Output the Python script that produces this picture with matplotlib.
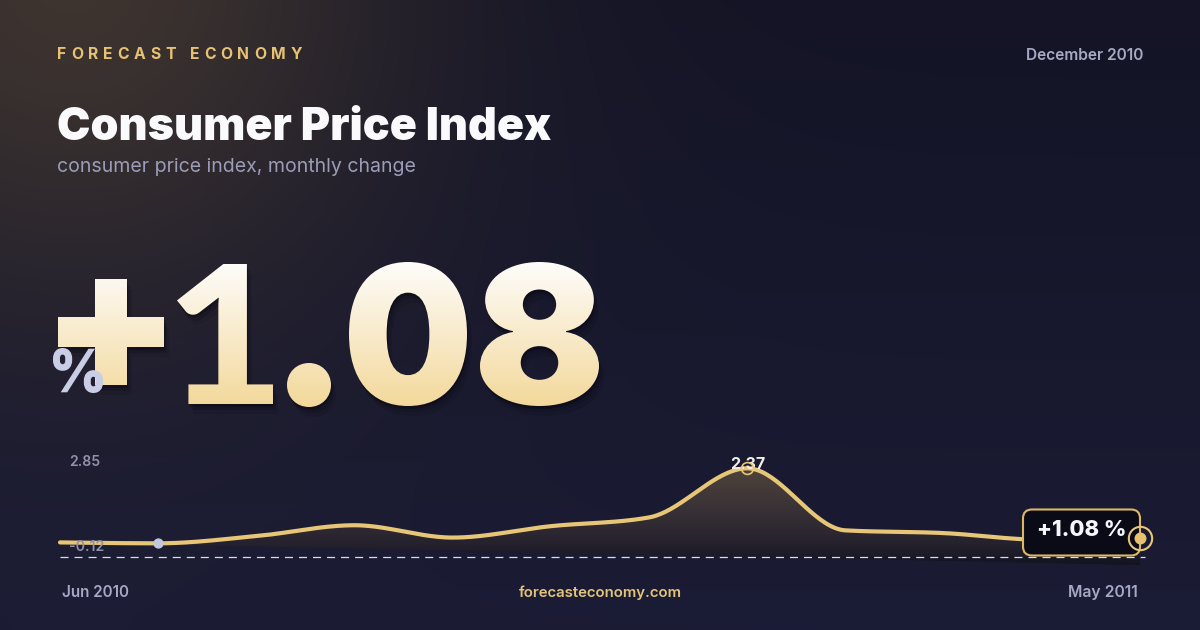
import numpy as np
import matplotlib
matplotlib.use("Agg")
import matplotlib.pyplot as plt
from matplotlib.path import Path
from matplotlib.patches import PathPatch, FancyBboxPatch
from matplotlib.transforms import Affine2D, IdentityTransform, TransformedPath
from matplotlib.patheffects import AbstractPathEffect
from matplotlib.colors import to_rgb

# ---------------- data ----------------
months = ['Jun 2010', 'Jul 2010', 'Aug 2010', 'Sep 2010', 'Oct 2010', 'Nov 2010',
          'Dec 2010', 'Jan 2011', 'Feb 2011', 'Mar 2011', 'Apr 2011', 'May 2011']
values = [-0.09, -0.12, 0.12, 0.48, 0.07, 0.45, 0.74, 2.37, 0.31, 0.22, 0.00, 0.04]
axis_labels = ['2.85', '-0.12']
headline = '+1.08'
headline_unit = '%'
badge_text = '+1.08 %'
brand = 'FORECAST ECONOMY'
title = 'Consumer Price Index'
subtitle = 'consumer price index, monthly change'
period = 'December 2010'
site = 'forecasteconomy.com'

# ---------------- style ----------------
plt.rcParams['font.family'] = ['Inter', 'DejaVu Sans']
plt.rcParams['lines.scale_dashes'] = False
GOLD = '#e8c677'
GRAY = '#a7a9c4'
W, H = 1200, 630

fig = plt.figure(figsize=(12, 6.3), dpi=100)
renderer = fig.canvas.get_renderer()

# background axes (pixel coordinates, y down)
bg = fig.add_axes([0, 0, 1, 1], zorder=0)
bg.set_axis_off()
yy, xx = np.mgrid[0:H, 0:W].astype(float)
top_c = np.array([20, 20, 38.0]); bot_c = np.array([27, 28, 53.0])
base = top_c + (bot_c - top_c) * (yy / H)[..., None]
d = np.hypot(xx - 70, yy + 30)
g = 0.80 * np.exp(-(d / 350.0) ** 2)
warm = np.array([72, 60, 50.0])
img = base * (1 - g[..., None]) + warm * g[..., None]
bg.imshow(img.astype(np.uint8), extent=(0, W, H, 0), aspect='auto', interpolation='bilinear')
bg.set_xlim(0, W); bg.set_ylim(H, 0)


class BoxGradient(AbstractPathEffect):
    """Fill a text glyph with a vertical gradient, fitted into a pixel box."""

    def __init__(self, box, c_top, c_bot, g_top=262, g_bot=407, shadows=()):
        super().__init__()
        self.box = box
        self.c_top = np.array(to_rgb(c_top)); self.c_bot = np.array(to_rgb(c_bot))
        self.g_top, self.g_bot = g_top, g_bot
        self.shadows = shadows

    def draw_path(self, renderer, gc, tpath, affine, rgbFace=None):
        Hf = renderer.height
        path = affine.transform_path(tpath)
        ext = path.get_extents()
        l, t, r, b = self.box
        fit = (Affine2D().translate(-ext.x0, -ext.y0)
               .scale((r - l) / ext.width, (b - t) / ext.height)
               .translate(l, Hf - b))
        p2 = fit.transform_path(path)
        for dx, dy, a in self.shadows:
            gs = renderer.new_gc(); gs.copy_properties(gc)
            gs.set_alpha(a); gs.set_linewidth(0)
            renderer.draw_path(gs, p2, Affine2D().translate(dx, -dy), (0.02, 0.02, 0.05))
            gs.restore()
        x0 = int(np.floor(l)) - 2; x1 = int(np.ceil(r)) + 2
        y0 = int(np.floor(Hf - b)) - 2; y1 = int(np.ceil(Hf - t)) + 2
        hh, ww = y1 - y0, x1 - x0
        rows_from_top = (Hf - y1) + np.arange(hh) + 0.5
        f = np.clip((rows_from_top - self.g_top) / (self.g_bot - self.g_top), 0, 1)
        rgb = self.c_top[None, :] * (1 - f)[:, None] + self.c_bot[None, :] * f[:, None]
        im = np.ones((hh, ww, 4))
        im[..., :3] = rgb[:, None, :]
        im = (im[::-1] * 255).astype(np.uint8)   # image rows run bottom-up here
        gi = renderer.new_gc(); gi.copy_properties(gc)
        gi.set_alpha(1.0)
        gi.set_clip_path(TransformedPath(p2, IdentityTransform()))
        renderer.draw_image(gi, x0, y0, np.ascontiguousarray(im))
        gi.restore()


def fit_text(axo, xp, yp, s, width, ha='left', va='baseline', base_size=20, **kw):
    tx = axo.text(xp, yp, s, ha=ha, va=va, fontsize=base_size, **kw)
    wv = tx.get_window_extent(renderer).width
    tx.set_fontsize(base_size * width / wv)
    return tx


# ---------------- big headline number (real text, gradient fill) ----------------
headline_boxes = [(58, 279, 164, 385), (177, 264, 273, 404), (287, 363, 331, 407),
                  (349, 262, 467, 406), (480, 262, 599, 406)]
shadow_spec = [(1, 3, 0.30), (3, 6, 0.18), (5, 10, 0.10)]
for ch, box in zip(headline, headline_boxes):
    fam = 'Lato' if ch == '1' else 'Inter'
    tx = fit_text(bg, box[0], box[3], ch, box[2] - box[0] - 2, base_size=140, family=fam,
                  fontweight=900, color='#f8e6bc', zorder=5)
    tx.set_path_effects([BoxGradient(box, '#fefdfb', '#f3d89a', shadows=shadow_spec)])

ut = fit_text(bg, 53, 393, headline_unit, 48, base_size=40, fontweight=900,
              color='#c9cde6', zorder=6)
ut.set_path_effects([BoxGradient((53, 348, 103, 393), '#c9cde6', '#c9cde6')])

# ---------------- chart ----------------
ax = fig.add_axes([60 / W, (H - 565) / H, 1080 / W, 125 / H], zorder=1)
ax.set_axis_off()
ax.patch.set_alpha(0)
x = np.arange(len(values), dtype=float)
y = np.array(values, dtype=float)
ax.set_xlim(0, len(values) - 1)
ymin, ymax = -0.84, 3.31
ax.set_ylim(ymin, ymax)


def monotone_curve(x, y, n=40):
    h = np.diff(x); s = np.diff(y) / h
    tg = np.zeros_like(y)
    for i in range(1, len(y) - 1):
        p = (s[i - 1] * h[i] + s[i] * h[i - 1]) / (h[i - 1] + h[i])
        tg[i] = (np.sign(s[i - 1]) + np.sign(s[i])) * min(abs(s[i - 1]), abs(s[i]), 0.5 * abs(p))
    tg[0] = (3 * s[0] - tg[1]) / 2
    tg[-1] = (3 * s[-1] - tg[-2]) / 2
    xs, ys = [], []
    for i in range(len(x) - 1):
        u = np.linspace(0, 1, n, endpoint=(i == len(x) - 2))
        h00 = 2 * u**3 - 3 * u**2 + 1; h10 = u**3 - 2 * u**2 + u
        h01 = -2 * u**3 + 3 * u**2; h11 = u**3 - u**2
        xs.append(x[i] + u * h[i])
        ys.append(h00 * y[i] + h10 * h[i] * tg[i] + h01 * y[i + 1] + h11 * h[i] * tg[i + 1])
    return np.concatenate(xs), np.concatenate(ys)


xs, ys = monotone_curve(x, y)

# gradient area
poly = np.vstack([np.column_stack([xs, ys]), [[x[-1], ymin], [x[0], ymin]]])
area = PathPatch(Path(poly, closed=True), transform=ax.transData, fc='none', ec='none')
ax.add_patch(area)
stops = [(0.00, '#131220'), (0.08, '#1a1925'), (0.20, '#24212d'), (0.41, '#302a32'),
         (0.66, '#3d3537'), (1.00, '#4e433a')]
tt = np.linspace(0, 1, 256)
cols = np.zeros((256, 3))
for k in range(3):
    cols[:, k] = np.interp(tt, [s_[0] for s_ in stops], [to_rgb(s_[1])[k] for s_ in stops])
aim = ax.imshow(cols[:, None, :], extent=(x[0], x[-1], ymin, y.max()), origin='lower',
                aspect='auto', zorder=1, interpolation='bilinear')
aim.set_clip_path(area)

# baseline dashed
base_v = -0.575
ax.plot([x[0], x[-1] + 0.05], [base_v, base_v], color='#dcdce8', lw=0.9,
        dashes=(5.8, 4.3), zorder=2, clip_on=False)

# line
ax.plot(xs, ys, color=GOLD, lw=3.0, solid_capstyle='round', solid_joinstyle='round',
        zorder=3, clip_on=False)

# min marker
imin = int(np.argmin(y))
ax.plot(x[imin], y[imin], 'o', ms=7.4, color='#c3c6de', mec='none', zorder=6, clip_on=False)

# peak marker + label
imax = int(np.argmax(y))
ax.annotate(f'{y[imax]:.2f}', (x[imax], y[imax]), xytext=(0, -1), textcoords='offset pixels',
            ha='center', va='baseline', color='#f2efe8', fontsize=11.5, fontweight='bold',
            zorder=5, annotation_clip=False)
ax.plot(x[imax], y[imax], 'o', ms=8.5, mfc='none', mec=GOLD, mew=1.2, zorder=6, clip_on=False)

# last point badge
pd = ax.transData.transform((x[-1], y[-1]))
badge = FancyBboxPatch((pd[0] - 117, pd[1] - 17), 117, 46,
                       boxstyle='round,pad=0,rounding_size=9', transform=IdentityTransform(),
                       fc='#0b0b18', ec='#dcb863', lw=1.5, zorder=4, clip_on=False)
ax.add_artist(badge)
bt = ax.annotate(badge_text, (x[-1], y[-1]), xytext=(-58.5, 2), textcoords='offset pixels',
                 ha='center', va='baseline', color='#f6f6fa', fontsize=12.3, fontweight=800,
                 zorder=5, annotation_clip=False)
w0 = bt.get_window_extent(renderer).width
bt.set_fontsize(12.3 * 89 / w0)

ax.plot(x[-1], y[-1], 'o', ms=16.8, mfc='none', mec=GOLD, mew=1.5, zorder=7, clip_on=False)
ax.plot(x[-1], y[-1], 'o', ms=8.6, color='#e8c36f', mec='none', zorder=7, clip_on=False)

# ---------------- overlay texts ----------------
ov = fig.add_axes([0, 0, 1, 1], zorder=2)
ov.set_axis_off(); ov.patch.set_alpha(0)
ov.set_xlim(0, W); ov.set_ylim(H, 0)


def spaced_text(axo, xp, yp, s, width, fontsize, **kw):
    chars = []
    widths = []
    for ch in s:
        if ch == ' ':
            chars.append(None); widths.append(0.28 * fontsize / 0.72)
            continue
        tx = axo.text(0, yp, ch, fontsize=fontsize, ha='left', va='baseline', **kw)
        chars.append(tx); widths.append(tx.get_window_extent(renderer).width)
    gap = (width - sum(widths)) / (len(s) - 1)
    cur = xp
    for tx, wv in zip(chars, widths):
        if tx is not None:
            tx.set_x(cur)
        cur += wv + gap


spaced_text(ov, 57, 59, brand, 245, 11.3, color='#e6c274', fontweight='bold')
fit_text(ov, 1143, 60, period, 118, ha='right', color=GRAY, fontweight=600)
fit_text(ov, 57, 140, title, 494, color='#fafafd', fontweight=900)
fit_text(ov, 57, 172, subtitle, 359, color='#9b9cb8', fontweight='normal')

fit_text(ov, 69, 466, axis_labels[0], 31, color='#9091ad', fontweight=600)
fit_text(ov, 69, 551, axis_labels[1], 35, color='#9091ad', fontweight=600, zorder=8)

fit_text(ov, 62, 597, months[0], 67, color=GRAY, fontweight=600)
fit_text(ov, 600, 597, site, 164, ha='center', color='#e3c479', fontweight=600)
fit_text(ov, 1138, 597, months[-1], 70, ha='right', color=GRAY, fontweight=600)

fig.savefig('out.png', dpi=100)
